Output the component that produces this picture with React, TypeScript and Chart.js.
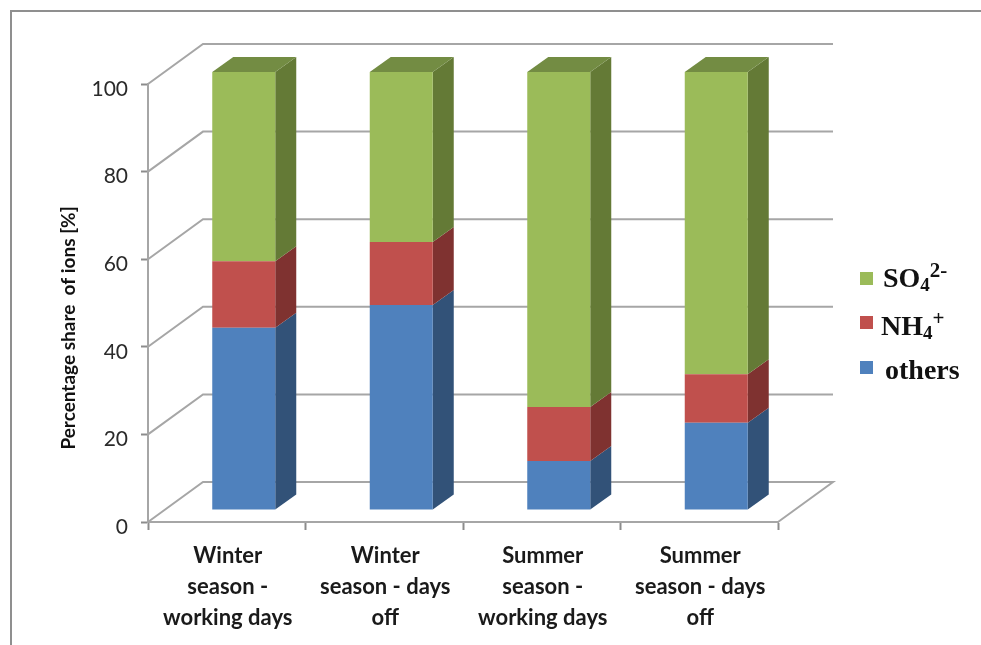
import { useEffect, useRef } from "react";
import { Chart, registerables } from "chart.js";

Chart.register(...registerables);

const categories = [
  ["Winter", "season -", "working days"],
  ["Winter", "season - days", "off"],
  ["Summer", "season -", "working days"],
  ["Summer", "season - days", "off"],
];
const others = [41.6, 46.8, 11.2, 19.9];
const nh4 = [15.2, 14.4, 12.3, 11.1];
const so4 = [43.2, 38.8, 76.5, 69];
const yTicks = [0, 20, 40, 60, 80, 100];

const BLUE = { front: "#4f81bd", side: "#325278" };
const RED = { front: "#c0504d", side: "#7f3230" };
const GREEN = { front: "#9bbb59", side: "#647a36", top: "#738c43" };
const GRID = "#a6a6a6";

// Projection of the floor depth and of the bars sitting on it
const WALL_DX = 55;
const WALL_DY = -40;
const BAR_SHIFT_X = 17;
const BAR_SHIFT_Y = -12;
const BAR_DX = 21;
const BAR_DY = -15;

function quad(ctx: CanvasRenderingContext2D, pts: number[][], fill: string) {
  ctx.beginPath();
  pts.forEach(([x, y], i) => (i ? ctx.lineTo(x, y) : ctx.moveTo(x, y)));
  ctx.closePath();
  ctx.fillStyle = fill;
  ctx.fill();
}

// Walls and floor behind the bars, plus the depth faces of every segment.
const depthPlugin = {
  id: "depth",
  beforeDatasetsDraw(chart: any) {
    const { ctx, scales, chartArea } = chart;
    const { left, right } = chartArea;
    ctx.save();
    ctx.strokeStyle = GRID;
    ctx.lineWidth = 2;
    yTicks.forEach((v) => {
      const y = scales.y.getPixelForValue(v);
      ctx.beginPath();
      ctx.moveTo(left, y);
      ctx.lineTo(left + WALL_DX, y + WALL_DY);
      ctx.lineTo(right + WALL_DX, y + WALL_DY);
      if (v === 0) ctx.lineTo(right, y);
      ctx.stroke();
    });
    ctx.translate(BAR_SHIFT_X, BAR_SHIFT_Y);
    chart.data.datasets.forEach((ds: any, i: number) => {
      chart.getDatasetMeta(i).data.forEach((bar: any) => {
        const xr = bar.x + bar.width / 2;
        const xl = bar.x - bar.width / 2;
        quad(ctx, [[xr, bar.base], [xr + BAR_DX, bar.base + BAR_DY], [xr + BAR_DX, bar.y + BAR_DY], [xr, bar.y]], ds.sideColor);
        if (ds.topColor) {
          quad(ctx, [[xl, bar.y], [xr, bar.y], [xr + BAR_DX, bar.y + BAR_DY], [xl + BAR_DX, bar.y + BAR_DY]], ds.topColor);
        }
      });
    });
  },
  afterDatasetsDraw(chart: any) {
    chart.ctx.restore();
  },
};

// Nudges one drawing step of a scale by a fixed offset.
function nudge(scale: any, method: string, dx: number, dy: number) {
  const key = `__${method}Nudged`;
  if (scale[key]) return;
  scale[key] = true;
  const original = scale[method];
  scale[method] = function (...args: any[]) {
    this.ctx.save();
    this.ctx.translate(dx, dy);
    original.apply(this, args);
    this.ctx.restore();
  };
}

const legendRows = [
  { color: GREEN.front, swatchTop: 272, textTop: 263, left: 883, parts: ["SO", "4", "2-"] },
  { color: RED.front, swatchTop: 316, textTop: 311, left: 881, parts: ["NH", "4", "+"] },
  { color: BLUE.front, swatchTop: 361, textTop: 355, left: 885, parts: ["others"] },
];

export default function App() {
  const ref = useRef<HTMLCanvasElement>(null);

  useEffect(() => {
    const chart = new Chart(ref.current as HTMLCanvasElement, {
      type: "bar",
      plugins: [depthPlugin],
      data: {
        labels: categories,
        datasets: [
          { label: "others", data: others, backgroundColor: BLUE.front, sideColor: BLUE.side },
          { label: "NH4+", data: nh4, backgroundColor: RED.front, sideColor: RED.side },
          { label: "SO42-", data: so4, backgroundColor: GREEN.front, sideColor: GREEN.side, topColor: GREEN.top },
        ].map((d) => ({ ...d, barPercentage: 0.4, categoryPercentage: 1, clip: false })) as any,
      },
      options: {
        animation: false,
        responsive: false,
        layout: { padding: { left: 0, top: 84, right: 203, bottom: 0 } },
        plugins: { legend: { display: false }, title: { display: false }, tooltip: { enabled: false } },
        scales: {
          x: {
            stacked: true,
            afterFit(scale: any) {
              scale.height = 123;
            },
            afterUpdate(scale: any) {
              nudge(scale, "drawLabels", 1, 0);
            },
            grid: { drawOnChartArea: false, color: "#8c8c8c", tickLength: 8, tickWidth: 2, offset: true },
            border: { color: GRID, width: 2 },
            ticks: {
              maxRotation: 0,
              autoSkip: false,
              padding: 11,
              color: "#1a1a1a",
              font: { family: "Lato", size: 22, weight: "bold", lineHeight: 1.39 },
            },
          },
          y: {
            stacked: true,
            min: 0,
            max: 100,
            afterFit(scale: any) {
              scale.width = 148;
            },
            afterUpdate(scale: any) {
              nudge(scale, "drawTitle", 0, 25);
              nudge(scale, "drawLabels", 0, 5);
            },
            grid: { drawOnChartArea: false, color: "#8c8c8c", tickLength: 7, tickWidth: 2 },
            border: { color: GRID, width: 2 },
            title: {
              display: true,
              text: "Percentage share  of ions [%]",
              color: "#111111",
              padding: { top: 57, bottom: 0 },
              font: { family: "Lato", size: 19, weight: "bold" },
            },
            ticks: {
              stepSize: 20,
              padding: 13,
              color: "#2a2a2a",
              font: { family: "Lato", size: 21 },
            },
          },
        },
      } as any,
    });
    return () => chart.destroy();
  }, []);

  return (
    <div style={{ position: "absolute", left: 0, top: 0, width: 981, height: 645, background: "#fff", overflow: "hidden" }}>
      <canvas ref={ref} width={981} height={645} style={{ position: "absolute", left: 0, top: 0, display: "block" }} />
      <div
        style={{
          position: "absolute",
          left: 10,
          top: 10,
          right: 0,
          bottom: 0,
          borderLeft: "2px solid #8f8f8f",
          borderTop: "2px solid #8f8f8f",
        }}
      />
      {legendRows.map((row) => (
        <div key={row.parts.join("")}>
          <div style={{ position: "absolute", left: 860, top: row.swatchTop, width: 13, height: 13, background: row.color }} />
          <div
            style={{
              position: "absolute",
              left: row.left,
              top: row.textTop,
              lineHeight: "30px",
              fontFamily: "'Liberation Serif', serif",
              fontWeight: "bold",
              fontSize: 28,
              color: "#111",
              whiteSpace: "nowrap",
            }}
          >
            {row.parts[0]}
            {row.parts[1] && <sub style={{ fontSize: 19, lineHeight: 0, verticalAlign: -4 }}>{row.parts[1]}</sub>}
            {row.parts[2] && <sup style={{ fontSize: 21, lineHeight: 0, verticalAlign: 10 }}>{row.parts[2]}</sup>}
          </div>
        </div>
      ))}
    </div>
  );
}
